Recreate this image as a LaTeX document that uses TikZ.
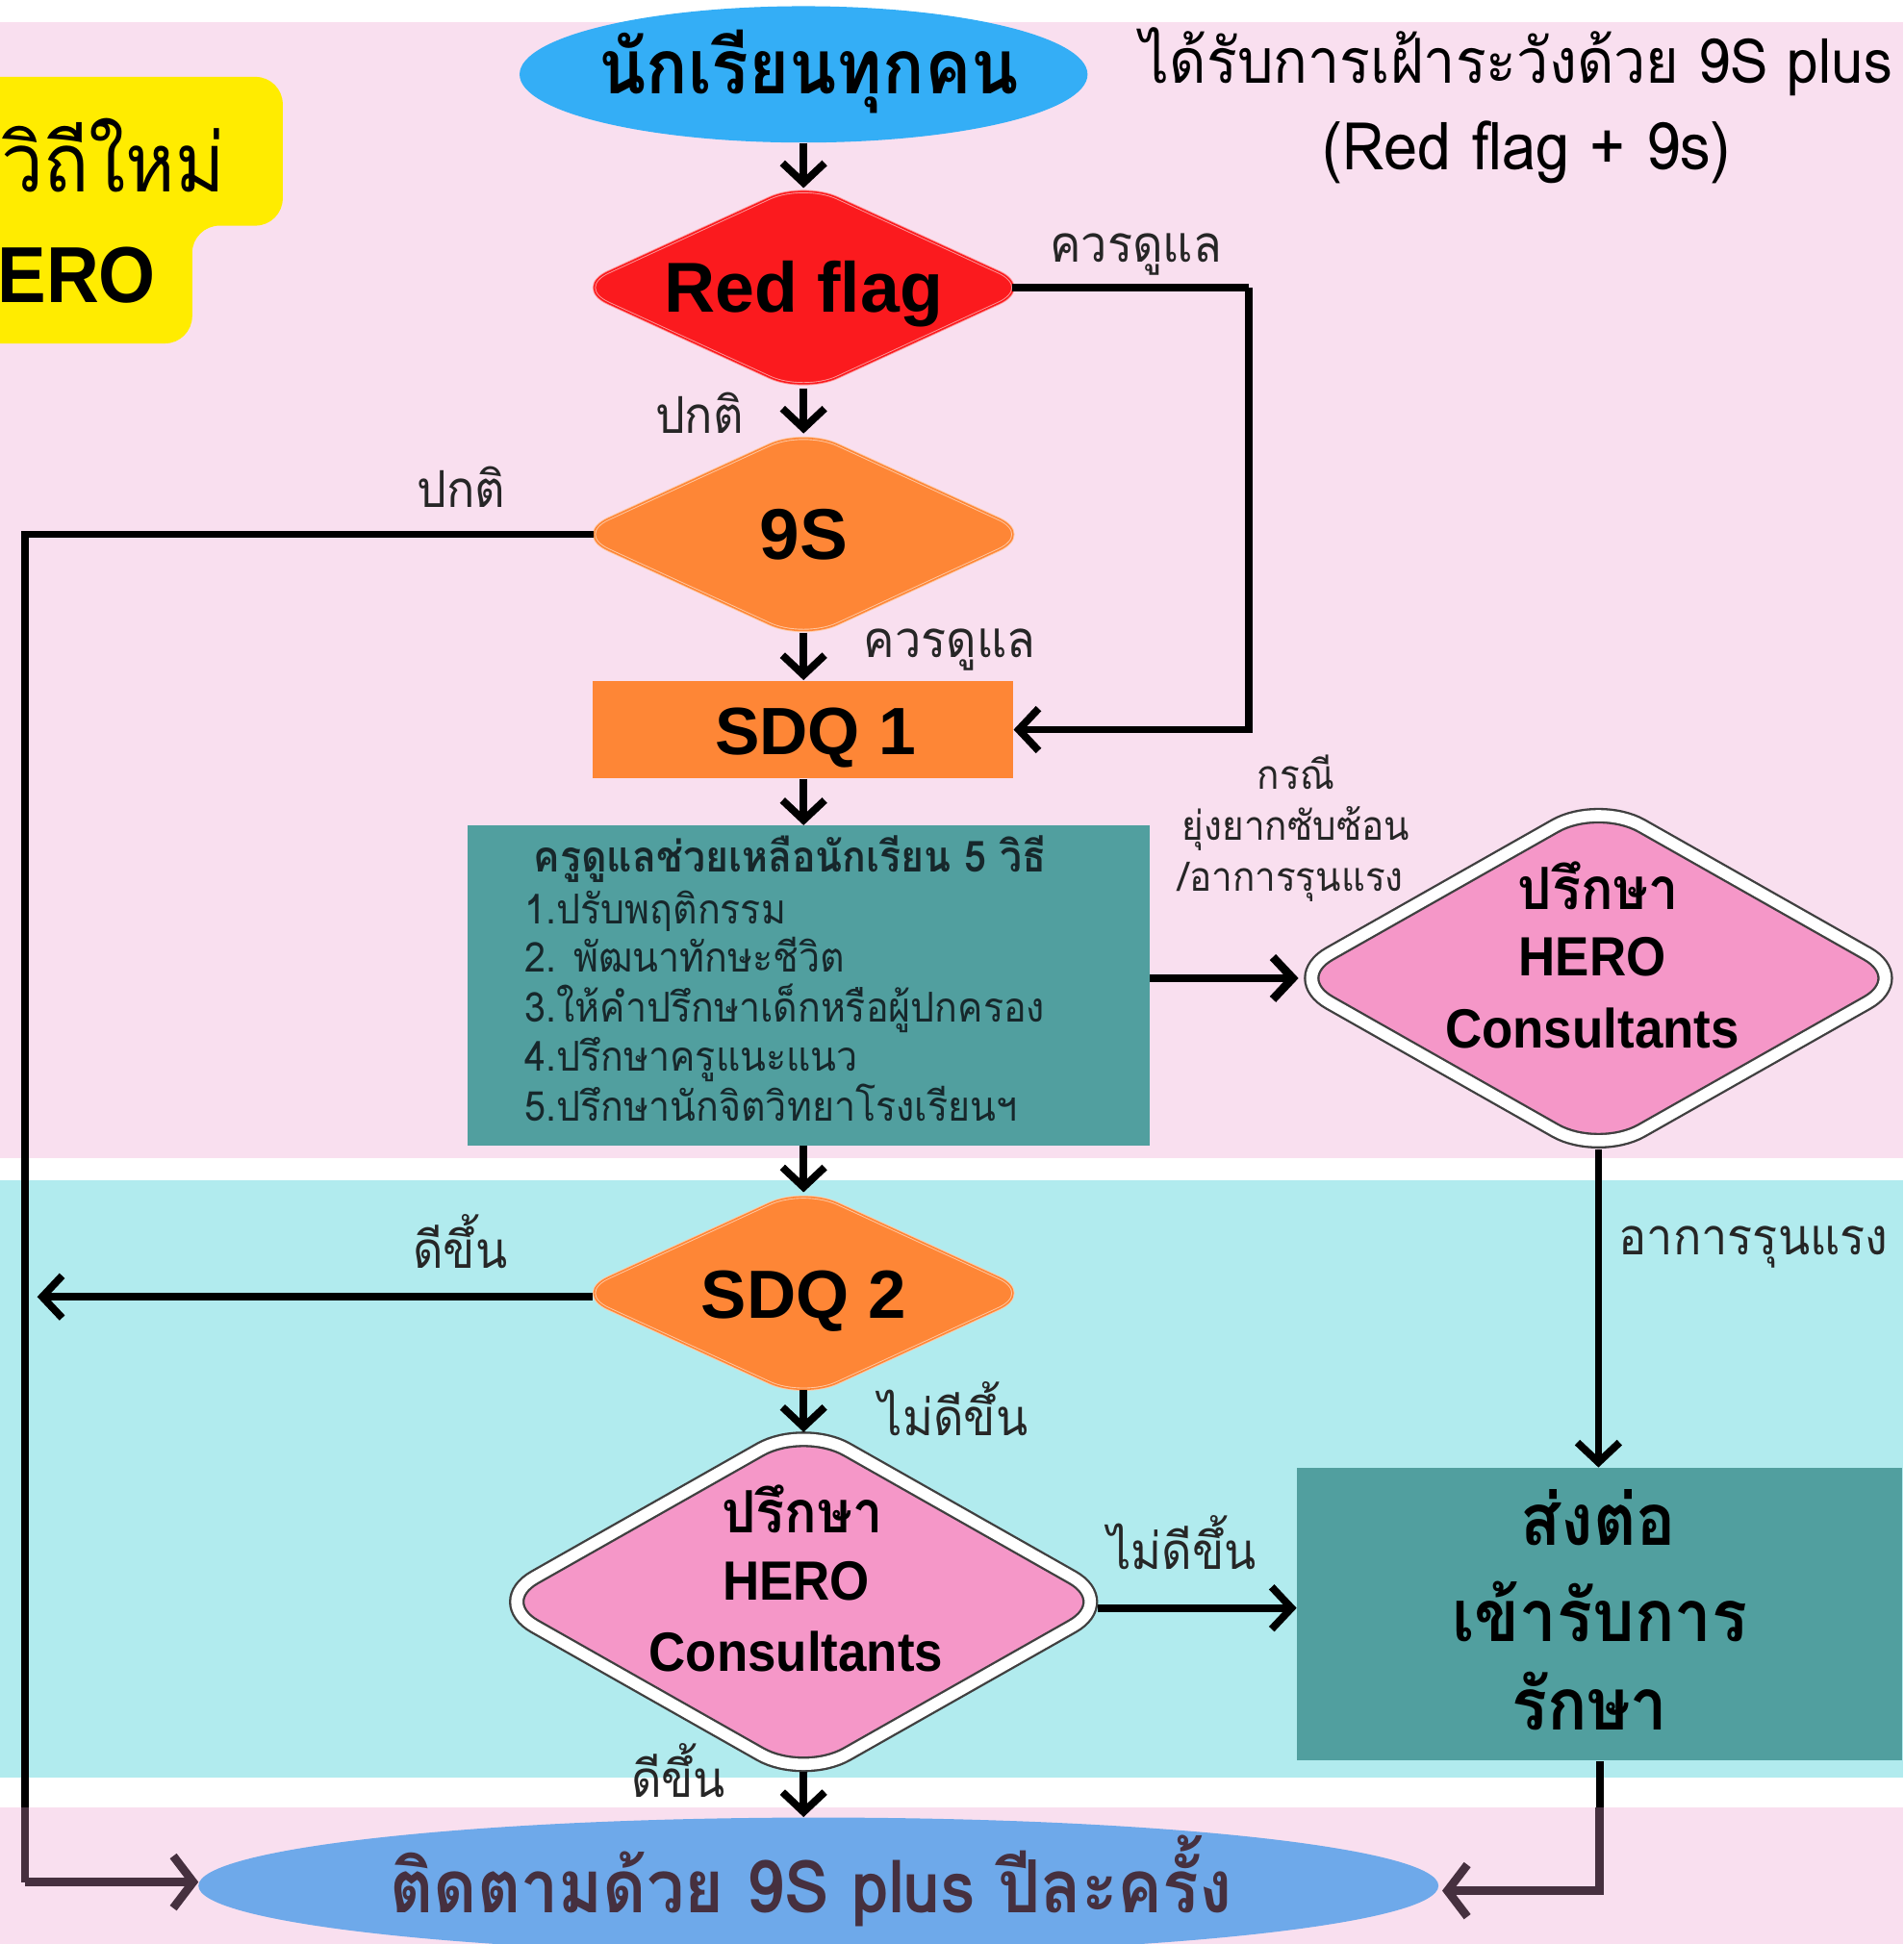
\documentclass[tikz,border=0pt]{standalone}
\usepackage{fontspec}
\usetikzlibrary{shapes.geometric,arrows.meta}
\newfontfamily\thf[Script=Thai,FakeStretch=0.92]{Loma}
\newfontfamily\latb{Liberation Sans Bold}[FakeStretch=0.92]
\newfontfamily\latc{Liberation Sans Bold}
\newcommand{\fz}[1]{\fontsize{#1}{#1}\selectfont}
\definecolor{bgpink}{HTML}{F9DFEF}
\definecolor{bgcyan}{HTML}{B1EBEE}
\definecolor{ylw}{HTML}{FFEC00}
\definecolor{rd}{HTML}{FB1A1E}
\definecolor{org}{HTML}{FE8636}
\definecolor{pnk}{HTML}{F597C8}
\definecolor{teal1}{HTML}{519F9F}
\definecolor{skyb}{HTML}{34AEF6}
\definecolor{blu}{HTML}{6EA9EA}
\definecolor{prp}{HTML}{46303F}
\definecolor{ink}{HTML}{17272B}
\tikzset{
  x=0.5pt,y=-0.5pt,
  conn/.style={line width=3pt,black},
  arr/.style={conn,-{Straight Barb[length=8pt,width=17pt]}},
  parr/.style={line width=3.4pt,prp,-{Straight Barb[length=8pt,width=21pt]}},
  pln/.style={line width=3pt,prp},
  dia/.style={diamond,aspect=2.2,inner sep=0pt,minimum width=185pt,minimum height=85pt,rounded corners=15pt,line width=.35pt,double distance=.6pt,text height=20pt,text depth=0pt},
  hero/.style={diamond,aspect=1,inner sep=0pt,minimum width=252pt,minimum height=143pt,rounded corners=20pt,fill=pnk,draw=black!75,line width=.9pt,double=white,double distance=4.5pt},
  lab/.style={font=\thf\fz{20.5}\color{black!85},inner sep=0pt},
  smalllab/.style={font=\thf\fz{16.3}\color{black!85},inner sep=0pt},
  herot/.style={font=\latb\fz{22.3},inner sep=0pt},
  herotth/.style={font=\thf\bfseries\fz{23.5},inner sep=0pt},
  listt/.style={font=\thf\fz{16.6},inner sep=0pt,color=ink,anchor=base west},
  bigth/.style={font=\thf\bfseries\fz{29},inner sep=0pt},
}
\begin{document}
\begin{tikzpicture}
\useasboundingbox (0,0) rectangle (1535,1568);
% bands
\fill[white] (0,0) rectangle (1535,1568);
\fill[bgpink] (0,18) rectangle (1535,934);
\fill[bgcyan] (0,952) rectangle (1535,1434);
\fill[bgpink] (0,1458) rectangle (1535,1568);
% yellow tag
\fill[ylw,rounded corners=11pt] (-30,62) -- (228,62) -- (228,182) -- (155,182) -- (155,277) -- (-30,277) -- cycle;
\node[font=\thf\fz{33},inner sep=0pt,anchor=east] (tagA) at (182,125) {วิถีใหม่};
\node[font=\latb\fz{32},inner sep=0pt,anchor=east] (tagB) at (126,222) {ERO};
% nodes
\node[ellipse,fill=skyb,inner sep=0pt,minimum width=229pt,minimum height=55pt] (top) at (648,60) {};
\node[font=\thf\bfseries\fz{30.4},inner sep=0pt] (topT) at (652,58) {นักเรียนทุกคน};
\node[font=\thf\fz{25},inner sep=0pt] (titleA) at (1223,50) {ได้รับการเฝ้าระวังด้วย 9S plus};
\node[font=\thf\fz{26.6},inner sep=0pt] (titleB) at (1231,123) {(Red flag + 9s)};
\node[dia,fill=rd,draw=white!55!rd,double=rd,font=\latc\fz{28.5}] (rf) at (648,232) {Red flag};
\node[dia,fill=org,draw=white!55!org,double=org,font=\latc\fz{29}] (ns) at (648,431) {9S};
\node[fill=org,inner sep=0pt,minimum width=169.5pt,minimum height=39.5pt,font=\latc\fz{27},text height=20pt,text depth=0pt] (sdqa) at (647.5,588.5) {\hspace*{10pt}SDQ 1};
\node[fill=teal1,inner sep=0pt,minimum width=275pt,minimum height=129pt] (tbox) at (652,795) {};
\node[font=\thf\bfseries\fz{17.3},inner sep=0pt,color=ink] (tlist) at (637,693) {ครูดูแลช่วยเหลือนักเรียน 5 วิธี};
\node[listt] (l1) at (423,745) {1.ปรับพฤติกรรม};
\node[listt] (l2) at (423,784) {2. พัฒนาทักษะชีวิต};
\node[listt] (l3) at (423,824) {3.ให้คำปรึกษาเด็กหรือผู้ปกครอง};
\node[listt] (l4) at (423,864) {4.ปรึกษาครูแนะแนว};
\node[listt] (l5) at (423,904) {5.ปรึกษานักจิตวิทยาโรงเรียนฯ};
\node[hero] (pa) at (1289,789) {};
\node[herotth] (paA) at (1289,714) {ปรึกษา};
\node[herot] (paB) at (1284,772) {HERO};
\node[herot] (paC) at (1284,829) {Consultants};
\node[dia,fill=org,draw=white!55!org,double=org,font=\latc\fz{27.5}] (sdqb) at (648,1043) {SDQ 2};
\node[hero] (pb) at (648,1292) {};
\node[herotth] (pbA) at (647,1217) {ปรึกษา};
\node[herot] (pbB) at (642,1275) {HERO};
\node[herot] (pbC) at (642,1332) {Consultants};
\node[fill=teal1,inner sep=0pt,minimum width=244pt,minimum height=118pt] (rx) at (1290,1302) {};
\node[bigth] (rxA) at (1289,1224) {ส่งต่อ};
\node[bigth] (rxB) at (1290,1300) {เข้ารับการ};
\node[bigth] (rxC) at (1282,1372) {รักษา};
\node[ellipse,fill=blu,inner sep=0pt,minimum width=500pt,minimum height=55pt] (bot) at (660,1521) {};
\node[font=\thf\bfseries\fz{29.5},inner sep=0pt,color=prp] (botT) at (654,1517) {ติดตามด้วย 9S plus ปีละครั้ง};
% labels
\node[lab] (q1) at (916,205) {ควรดูแล};
\node[lab] (q2) at (564,333) {ปกติ};
\node[lab] (q3) at (372,393) {ปกติ};
\node[lab] (q4) at (766,524) {ควรดูแล};
\node[smalllab] (q5) at (1045,623) {กรณี};
\node[smalllab] (q6) at (1045,668) {ยุ่งยากซับซ้อน};
\node[smalllab] (q7) at (1041,711) {/อาการรุนแรง};
\node[lab] (q8) at (1414,1006) {อาการรุนแรง};
\node[lab] (q9) at (371,1001) {ดีขึ้น};
\node[lab] (q10) at (769,1136) {ไม่ดีขึ้น};
\node[lab] (q11) at (953,1244) {ไม่ดีขึ้น};
\node[lab] (q12) at (547,1428) {ดีขึ้น};
% free ends
\coordinate (rfTurn) at (1007,232);
\coordinate (leftJ) at (20,1458);
\coordinate (rightJ) at (1290,1458);
\coordinate (botL) at (160,1518);
\coordinate (botR) at (1163,1525);
\coordinate (sdqLeftEnd) at (30,1046);
\coordinate (pbOut) at (885,1297);
% connectors
\draw[arr,shorten >=-2.5pt] (top.south) -- (rf.north);
\draw[arr,shorten <=-2pt,shorten >=-2pt] (rf.south) -- (ns.north);
\draw[arr,shorten <=-3pt] (ns.south) -- (ns.south |- sdqa.north);
\draw[arr] (sdqa.south -| rf.south) -- (rf.south |- tbox.north);
\draw[conn] (rf.east) ++(-17,0) -- (rfTurn);
\draw[arr] (rfTurn) |- (sdqa.east);
\draw[arr,line width=3.4pt,shorten >=-5.5pt] (tbox.east |- pa.west) -- (pa.west);
\draw[arr,shorten >=-2pt] (tbox.south -| sdqb.north) -- (sdqb.north);
\draw[arr,shorten <=-3pt] (pa.south) -- (rx.north -| pa.south);
\draw[arr] (sdqb.west |- sdqLeftEnd) ++(15,0) -- (sdqLeftEnd);
\draw[arr,shorten <=-3.5pt,shorten >=-3.5pt] (sdqb.south) -- (pb.north);
\draw[arr] (pbOut) -- (rx.west |- pbOut);
\draw[arr,shorten <=-3.5pt] (pb.south) -- (pb.south |- bot.north);
\draw[conn] (ns.west) ++(16,0) -| (leftJ);
\draw[pln] (leftJ) -- (20,1518);
\draw[parr] (20,1518) -- (botL);
\draw[conn] (rx.south) -- (rightJ);
\draw[parr] (rightJ) |- (botR);
\end{tikzpicture}
\end{document}
